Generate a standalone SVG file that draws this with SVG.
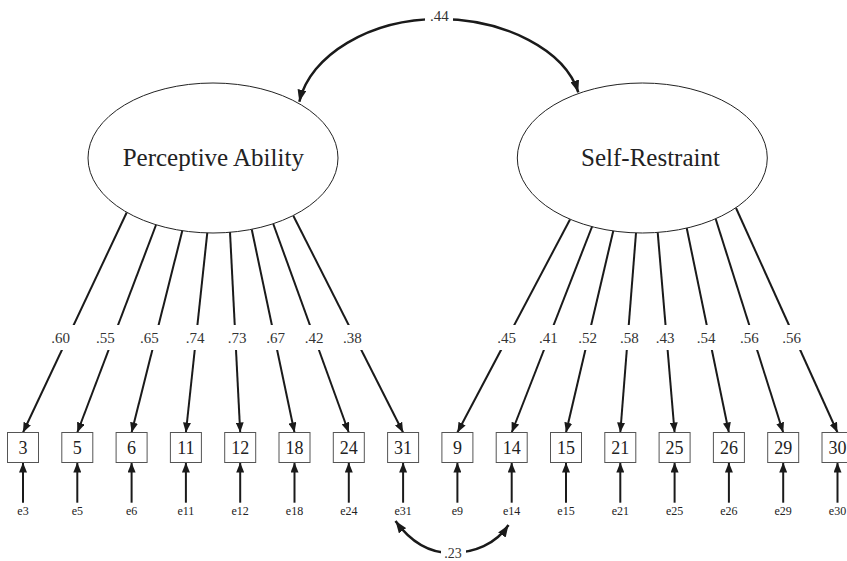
<svg xmlns="http://www.w3.org/2000/svg" width="847" height="561" viewBox="0 0 847 561">
<style>
.lat{fill:#fff;stroke:#222;stroke-width:1}
.obs{fill:#fff;stroke:#555;stroke-width:1}
.ln{fill:none;stroke:#1a1a1a;stroke-width:2}
.cov{fill:none;stroke:#1a1a1a;stroke-width:2.5}
.t{font-family:"Liberation Serif","Times New Roman",serif;fill:#222;text-anchor:middle}
.big{font-size:25px}
.box{font-size:18px}
.lab{font-size:15px;fill:#333}
.err{font-size:12px}
</style>
<defs>
<marker id="ah" viewBox="0 0 10 8" refX="10" refY="4" markerWidth="10" markerHeight="8" markerUnits="userSpaceOnUse" orient="auto-start-reverse">
<path d="M0,0 L10,4 L0,8 z" fill="#1a1a1a"/>
</marker>
<marker id="ahc" viewBox="0 0 12 9" refX="12" refY="4.5" markerWidth="12" markerHeight="9" markerUnits="userSpaceOnUse" orient="auto-start-reverse">
<path d="M0,0 L12,4.5 L0,9 z" fill="#1a1a1a"/>
</marker>
<mask id="gap" maskUnits="userSpaceOnUse" x="0" y="0" width="847" height="561">
<rect x="0" y="0" width="847" height="561" fill="#fff"/>
<rect x="0" y="325" width="847" height="25" fill="#000"/>
</mask>
</defs>
<rect width="847" height="561" fill="#fff"/>

<g id="connectors">
<g id="loadings" mask="url(#gap)">
<path class="ln" marker-end="url(#ah)" d="M126.7,212.5 L23,432.5"/>
<path class="ln" marker-end="url(#ah)" d="M156,225 L77.3,432.5"/>
<path class="ln" marker-end="url(#ah)" d="M182.3,230.7 L131.6,432.5"/>
<path class="ln" marker-end="url(#ah)" d="M207.3,232.7 L185.9,432.5"/>
<path class="ln" marker-end="url(#ah)" d="M230,232 L240.2,432.5"/>
<path class="ln" marker-end="url(#ah)" d="M251.7,229.3 L294.5,432.5"/>
<path class="ln" marker-end="url(#ah)" d="M273.3,224 L348.8,432.5"/>
<path class="ln" marker-end="url(#ah)" d="M293.3,215.7 L403.1,432.5"/>
<path class="ln" marker-end="url(#ah)" d="M570,219.5 L457.4,432.5"/>
<path class="ln" marker-end="url(#ah)" d="M592.3,226 L511.7,432.5"/>
<path class="ln" marker-end="url(#ah)" d="M613.3,230.7 L566,432.5"/>
<path class="ln" marker-end="url(#ah)" d="M636,233 L620.3,432.5"/>
<path class="ln" marker-end="url(#ah)" d="M657.7,232.3 L674.6,432.5"/>
<path class="ln" marker-end="url(#ah)" d="M686.7,228 L728.9,432.5"/>
<path class="ln" marker-end="url(#ah)" d="M715.7,219 L783.2,432.5"/>
<path class="ln" marker-end="url(#ah)" d="M736,208 L837.5,432.5"/>
</g>
<g id="loading-labels">
<text class="t lab" x="60.7" y="342.5">.60</text>
<text class="t lab" x="105.3" y="342.5">.55</text>
<text class="t lab" x="149.3" y="342.5">.65</text>
<text class="t lab" x="195" y="342.5">.74</text>
<text class="t lab" x="237" y="342.5">.73</text>
<text class="t lab" x="275.7" y="342.5">.67</text>
<text class="t lab" x="314" y="342.5">.42</text>
<text class="t lab" x="352.3" y="342.5">.38</text>
<text class="t lab" x="506.7" y="342.5">.45</text>
<text class="t lab" x="548.3" y="342.5">.41</text>
<text class="t lab" x="587.7" y="342.5">.52</text>
<text class="t lab" x="629.3" y="342.5">.58</text>
<text class="t lab" x="665" y="342.5">.43</text>
<text class="t lab" x="706" y="342.5">.54</text>
<text class="t lab" x="749.3" y="342.5">.56</text>
<text class="t lab" x="791.7" y="342.5">.56</text>
</g>
<g id="errors">
<path class="ln" marker-end="url(#ah)" d="M23,502.7 L23,462.5"/>
<path class="ln" marker-end="url(#ah)" d="M77.3,502.7 L77.3,462.5"/>
<path class="ln" marker-end="url(#ah)" d="M131.6,502.7 L131.6,462.5"/>
<path class="ln" marker-end="url(#ah)" d="M185.9,502.7 L185.9,462.5"/>
<path class="ln" marker-end="url(#ah)" d="M240.2,502.7 L240.2,462.5"/>
<path class="ln" marker-end="url(#ah)" d="M294.5,502.7 L294.5,462.5"/>
<path class="ln" marker-end="url(#ah)" d="M348.8,502.7 L348.8,462.5"/>
<path class="ln" marker-end="url(#ah)" d="M403.1,502.7 L403.1,462.5"/>
<path class="ln" marker-end="url(#ah)" d="M457.4,502.7 L457.4,462.5"/>
<path class="ln" marker-end="url(#ah)" d="M511.7,502.7 L511.7,462.5"/>
<path class="ln" marker-end="url(#ah)" d="M566,502.7 L566,462.5"/>
<path class="ln" marker-end="url(#ah)" d="M620.3,502.7 L620.3,462.5"/>
<path class="ln" marker-end="url(#ah)" d="M674.6,502.7 L674.6,462.5"/>
<path class="ln" marker-end="url(#ah)" d="M728.9,502.7 L728.9,462.5"/>
<path class="ln" marker-end="url(#ah)" d="M783.2,502.7 L783.2,462.5"/>
<path class="ln" marker-end="url(#ah)" d="M837.5,502.7 L837.5,462.5"/>
</g>
<g id="cov-latent">
<path class="cov" marker-start="url(#ahc)" marker-end="url(#ahc)" d="M299.3,101.7 C310,55 370,19 439,19 C505,19 565,50 578.3,92.3"/>
<rect x="425" y="6" width="28" height="20" fill="#fff"/>
<text class="t lab" x="439.3" y="21">.44</text>
</g>
<g id="cov-e31-e14">
<path class="cov" marker-start="url(#ahc)" marker-end="url(#ahc)" d="M395.5,521 C410,541 428,553 451,553 C474,553 496,544 508.5,525"/>
<rect x="441" y="542" width="25" height="19" fill="#fff"/>
<text class="t lab" x="453" y="557.5" style="font-size:14px">.23</text>
</g>
</g>

<g id="lat-perceptive">
<ellipse class="lat" cx="213" cy="158" rx="125" ry="75"/>
<text class="t big" x="213.3" y="166">Perceptive Ability</text>
</g>
<g id="lat-selfrestraint">
<ellipse class="lat" cx="642.3" cy="158" rx="125" ry="75"/>
<text class="t big" x="650.5" y="166">Self-Restraint</text>
</g>

<g id="obs-3"><rect class="obs" x="7.5" y="432.5" width="31" height="30"/><text class="t box" x="23" y="454">3</text></g>
<g id="obs-5"><rect class="obs" x="61.8" y="432.5" width="31" height="30"/><text class="t box" x="77.3" y="454">5</text></g>
<g id="obs-6"><rect class="obs" x="116.1" y="432.5" width="31" height="30"/><text class="t box" x="131.6" y="454">6</text></g>
<g id="obs-11"><rect class="obs" x="170.4" y="432.5" width="31" height="30"/><text class="t box" x="185.9" y="454">11</text></g>
<g id="obs-12"><rect class="obs" x="224.7" y="432.5" width="31" height="30"/><text class="t box" x="240.2" y="454">12</text></g>
<g id="obs-18"><rect class="obs" x="279" y="432.5" width="31" height="30"/><text class="t box" x="294.5" y="454">18</text></g>
<g id="obs-24"><rect class="obs" x="333.3" y="432.5" width="31" height="30"/><text class="t box" x="348.8" y="454">24</text></g>
<g id="obs-31"><rect class="obs" x="387.6" y="432.5" width="31" height="30"/><text class="t box" x="403.1" y="454">31</text></g>
<g id="obs-9"><rect class="obs" x="441.9" y="432.5" width="31" height="30"/><text class="t box" x="457.4" y="454">9</text></g>
<g id="obs-14"><rect class="obs" x="496.2" y="432.5" width="31" height="30"/><text class="t box" x="511.7" y="454">14</text></g>
<g id="obs-15"><rect class="obs" x="550.5" y="432.5" width="31" height="30"/><text class="t box" x="566" y="454">15</text></g>
<g id="obs-21"><rect class="obs" x="604.8" y="432.5" width="31" height="30"/><text class="t box" x="620.3" y="454">21</text></g>
<g id="obs-25"><rect class="obs" x="659.1" y="432.5" width="31" height="30"/><text class="t box" x="674.6" y="454">25</text></g>
<g id="obs-26"><rect class="obs" x="713.4" y="432.5" width="31" height="30"/><text class="t box" x="728.9" y="454">26</text></g>
<g id="obs-29"><rect class="obs" x="767.7" y="432.5" width="31" height="30"/><text class="t box" x="783.2" y="454">29</text></g>
<g id="obs-30"><rect class="obs" x="822" y="432.5" width="31" height="30"/><text class="t box" x="837.5" y="454">30</text></g>

<g id="err-e3"><text class="t err" x="23" y="515">e3</text></g>
<g id="err-e5"><text class="t err" x="77.3" y="515">e5</text></g>
<g id="err-e6"><text class="t err" x="131.6" y="515">e6</text></g>
<g id="err-e11"><text class="t err" x="185.9" y="515">e11</text></g>
<g id="err-e12"><text class="t err" x="240.2" y="515">e12</text></g>
<g id="err-e18"><text class="t err" x="294.5" y="515">e18</text></g>
<g id="err-e24"><text class="t err" x="348.8" y="515">e24</text></g>
<g id="err-e31"><text class="t err" x="403.1" y="515">e31</text></g>
<g id="err-e9"><text class="t err" x="457.4" y="515">e9</text></g>
<g id="err-e14"><text class="t err" x="511.7" y="515">e14</text></g>
<g id="err-e15"><text class="t err" x="566" y="515">e15</text></g>
<g id="err-e21"><text class="t err" x="620.3" y="515">e21</text></g>
<g id="err-e25"><text class="t err" x="674.6" y="515">e25</text></g>
<g id="err-e26"><text class="t err" x="728.9" y="515">e26</text></g>
<g id="err-e29"><text class="t err" x="783.2" y="515">e29</text></g>
<g id="err-e30"><text class="t err" x="837.5" y="515">e30</text></g>
</svg>
